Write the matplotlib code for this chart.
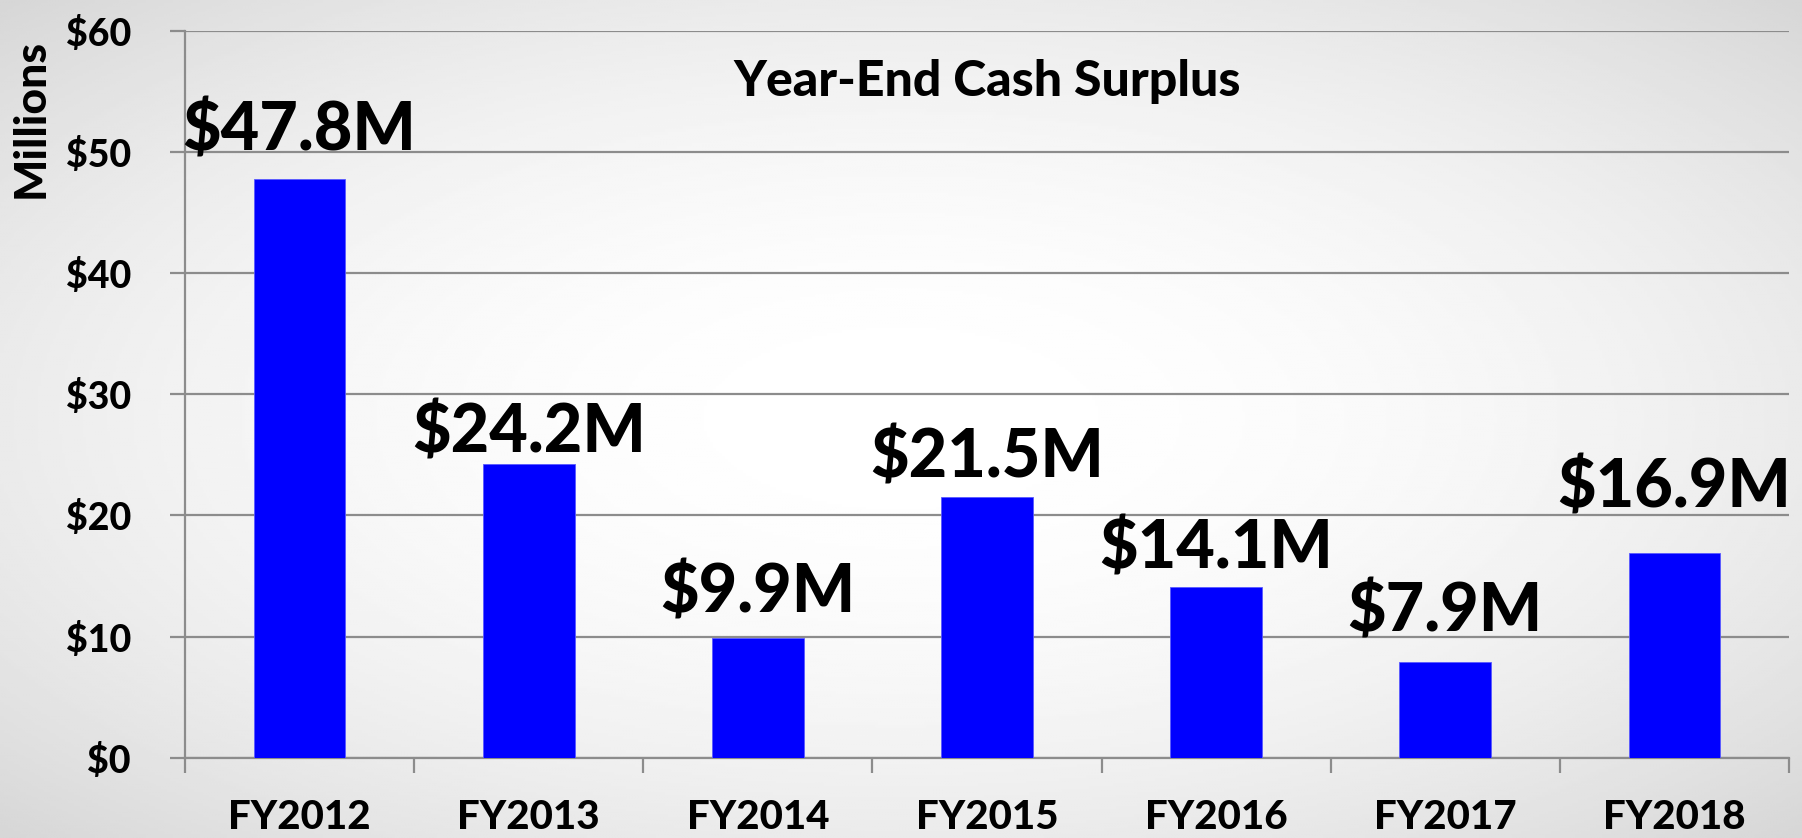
import numpy as np
import matplotlib
matplotlib.use("Agg")
import matplotlib.pyplot as plt

# data
years = ["FY2012", "FY2013", "FY2014", "FY2015", "FY2016", "FY2017", "FY2018"]
surplus = [47.8, 24.2, 9.9, 21.5, 14.1, 7.9, 16.9]
bar_labels = ["$47.8M", "$24.2M", "$9.9M", "$21.5M", "$14.1M", "$7.9M", "$16.9M"]
y_ticks = [0, 10, 20, 30, 40, 50, 60]

# label gap above each bar, in pixels (labels were hand-placed in the original)
label_gap_px = [28, 12, 25, 20, 18, 30, 45]

plt.rcParams['font.family'] = ['Lato', 'DejaVu Sans']
WT = 'black'

W, H, DPI = 1802, 838, 100
fig = plt.figure(figsize=(W / DPI, H / DPI), dpi=DPI)

# radial grey-to-white background
bg = fig.add_axes([0, 0, 1, 1], zorder=-10)
yy, xx = np.mgrid[0:1:300j, 0:1:600j]
r = np.sqrt(((xx - 0.5) / 0.5) ** 2 + ((yy - 0.5) / 0.5) ** 2) / np.sqrt(2)
shade = 1.0 - 0.16 * r ** 2
bg.imshow(shade, cmap='gray', vmin=0, vmax=1, aspect='auto', extent=[0, 1, 0, 1])
bg.axis('off')

ax = fig.add_axes([185 / W, 1 - 757.7 / H, (1789 - 185) / W, (757.7 - 30.7) / H])
ax.set_facecolor('none')

x = np.arange(len(years))
bars = ax.bar(x, surplus, width=0.4, color='#0000ff', edgecolor='#5a5aff', linewidth=0.6, zorder=3)

for xi, v, lab, gap in zip(x, surplus, bar_labels, label_gap_px):
    ax.annotate(lab, (xi, v), xytext=(0, gap * 72 / DPI), textcoords='offset points',
                ha='center', va='baseline', fontsize=48, fontweight=WT, zorder=4)

grid_c = '#8c8c8c'
ax.set_ylim(0, 60)
ax.set_xlim(-0.5, len(years) - 0.5)
ax.set_yticks(y_ticks)
ax.set_yticklabels(['$%d' % t for t in y_ticks], fontsize=27, fontweight=WT)
ax.yaxis.grid(True, color=grid_c, linewidth=1.6, zorder=0)
ax.set_axisbelow(True)

ax.set_xticks(np.arange(len(years) + 1) - 0.5)
ax.set_xticklabels([])
ax.set_xticks(x, minor=True)
ax.set_xticklabels(years, minor=True, fontsize=29, fontweight=WT)
ax.tick_params(axis='x', which='major', length=11, width=1.6, color=grid_c, direction='out')
ax.tick_params(axis='x', which='minor', length=0, pad=30)
ax.tick_params(axis='y', length=11, width=1.6, color=grid_c, pad=28)

for s in ['top', 'right']:
    ax.spines[s].set_visible(False)
for s in ['left', 'bottom']:
    ax.spines[s].set_color(grid_c)
    ax.spines[s].set_linewidth(1.6)

ax.text(0.5, 0.93, "Year-End Cash Surplus", transform=ax.transAxes, ha='center', va='center',
        fontsize=36, fontweight=WT)
fig.text(31 / W, 1 - 118 / H, "Millions", rotation=90, ha='center', va='center',
         fontsize=32, fontweight=WT)

fig.savefig("out.png", dpi=DPI)
